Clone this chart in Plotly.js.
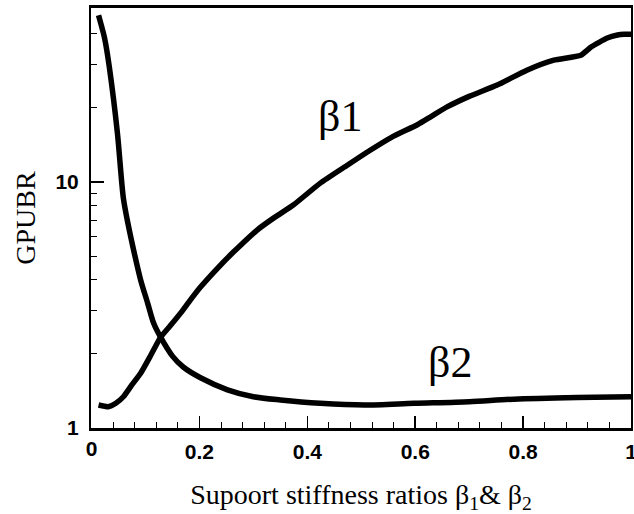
<!DOCTYPE html>
<html><head><meta charset="utf-8">
<script src="https://cdn.plot.ly/plotly-3.0.1.min.js"></script>
<style>html,body{margin:0;padding:0;background:#fff}#chart{width:634px;height:514px}</style>
</head><body><div id="chart"></div>
<script>
// beta1 curve (GPUBR vs support stiffness ratio)
const beta1X = [0.013, 0.031, 0.045, 0.059, 0.075, 0.091, 0.11, 0.128, 0.147, 0.165, 0.183, 0.202, 0.233, 0.263, 0.307, 0.34, 0.374, 0.424, 0.474, 0.515, 0.556, 0.604, 0.63, 0.659, 0.70, 0.752, 0.807, 0.857, 0.907, 0.926, 0.956, 0.975, 0.987, 1.0];
const beta1Y = [1.24, 1.22, 1.26, 1.34, 1.50, 1.67, 1.98, 2.34, 2.62, 2.93, 3.31, 3.74, 4.45, 5.19, 6.38, 7.2, 8.06, 9.9, 11.7, 13.4, 15.2, 17.1, 18.5, 20.2, 22.3, 24.8, 28.5, 31.3, 32.8, 35.4, 38.5, 39.6, 39.9, 39.9];
// beta2 curve
const beta2X = [0.013, 0.022, 0.026, 0.033, 0.048, 0.059, 0.068, 0.078, 0.091, 0.104, 0.115, 0.128, 0.150, 0.170, 0.202, 0.252, 0.30, 0.35, 0.424, 0.506, 0.598, 0.70, 0.783, 0.90, 1.0];
const beta2Y = [47.7, 40.3, 36.7, 29.3, 15.8, 8.6, 6.7, 5.29, 4.0, 3.22, 2.67, 2.34, 1.96, 1.77, 1.60, 1.43, 1.34, 1.30, 1.26, 1.24, 1.26, 1.28, 1.31, 1.33, 1.34];
// ticks
const yTickVals = [1, 10];
const yTickText = ['1', '10'];
const yMinorVals = [2, 3, 4, 5, 6, 7, 8, 9, 20, 30, 40];
const xTickVals = [0, 0.2, 0.4, 0.6, 0.8, 1];
const xTickText = ['0', '0.2', '0.4', '0.6', '0.8', '1'];
const labels = [{text: 'β1', x: 0.461, y: 18.4}, {text: 'β2', x: 0.665, y: 1.84}];

const traces = [
  {x: beta1X, y: beta1Y, mode: 'lines', line: {color: '#000', width: 5.5, shape: 'spline', smoothing: 0.5}, name: 'β1', hoverinfo: 'skip'},
  {x: beta2X, y: beta2Y, mode: 'lines', line: {color: '#000', width: 5.5, shape: 'spline', smoothing: 0.8}, name: 'β2', hoverinfo: 'skip'}
];
const tickFont = {family: 'Liberation Sans, Arial, sans-serif', size: 21, color: '#000', weight: 'bold'};
const titleFont = {family: 'Liberation Serif, Times New Roman, serif', size: 28, color: '#000'};
const annots = labels.map(l => ({
  text: l.text, x: l.x, y: Math.log10(l.y), xref: 'x', yref: 'y',
  showarrow: false, font: {family: 'Liberation Serif, Times New Roman, serif', size: 44, color: '#000'}
}));
const layout = {
  width: 634, height: 514,
  margin: {l: 91, r: 3, t: 8, b: 86},
  paper_bgcolor: '#fff', plot_bgcolor: '#fff',
  showlegend: false,
  xaxis: {
    range: [-0.001, 1], showgrid: false, zeroline: false,
    showline: true, mirror: true, linecolor: '#000', linewidth: 3,
    ticks: 'inside', ticklen: 12, tickwidth: 1.5, tickcolor: '#000',
    tickvals: xTickVals, ticktext: xTickText, tickfont: tickFont,
    ticklabeloverflow: 'allow', ticklabelstandoff: 3,
    minor: {dtick: 0.04, ticks: 'inside', ticklen: 6, tickwidth: 1, tickcolor: '#000', showgrid: false},
    title: {text: 'Supoort stiffness ratios β<sub>1</sub>& β<sub>2</sub>', font: titleFont, standoff: 29}
  },
  yaxis: {
    type: 'log', range: [0, Math.log10(51)], showgrid: false, zeroline: false,
    showline: true, mirror: true, linecolor: '#000', linewidth: 2,
    ticks: 'inside', ticklen: 13, tickwidth: 1.5, tickcolor: '#000',
    tickvals: yTickVals, ticktext: yTickText, tickfont: tickFont,
    ticklabelstandoff: 6,
    minor: {tickvals: yMinorVals, ticks: 'inside', ticklen: 6, tickwidth: 1, tickcolor: '#000', showgrid: false},
    title: {text: 'GPUBR', font: titleFont, standoff: 12}
  },
  annotations: annots
};
Plotly.newPlot('chart', traces, layout, {staticPlot: true, displayModeBar: false}).then(gd => {
  // make sure the corner tick label "0" is visible: redraw it on the topmost layer at the axis' own position
  const xa = gd._fullLayout.xaxis;
  const tickTexts = Array.from(gd.querySelectorAll('.xtick text'));
  const ref = tickTexts.find(t => t.textContent === xTickText[1]);
  tickTexts.filter(t => t.textContent === xTickText[0]).forEach(t => t.remove());
  const svgs = gd.querySelectorAll('.main-svg');
  const top = svgs[svgs.length - 1];
  const t = document.createElementNS('http://www.w3.org/2000/svg', 'text');
  t.setAttribute('x', xa._offset + xa.l2p(xTickVals[0]));
  t.setAttribute('y', ref ? ref.getAttribute('y') : 454);
  t.setAttribute('text-anchor', 'middle');
  t.setAttribute('style', 'font-family: Liberation Sans, Arial, sans-serif; font-size: 21px; font-weight: bold; fill: #000;');
  t.textContent = xTickText[0];
  top.appendChild(t);
});
</script></body></html>
